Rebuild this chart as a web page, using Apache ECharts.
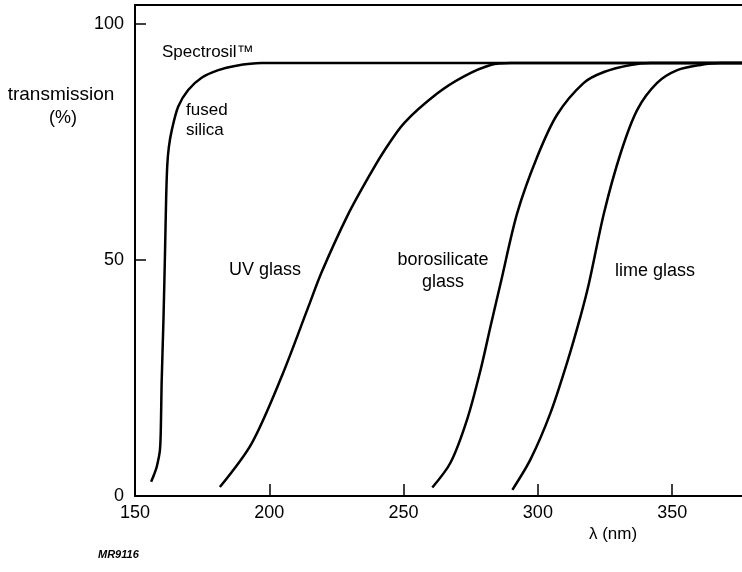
<!DOCTYPE html>
<html><head><meta charset="utf-8">
<script src="https://cdn.jsdelivr.net/npm/echarts@6/dist/echarts.min.js"></script>
<style>html,body{margin:0;padding:0;background:#fff}#c{width:742px;height:572px}</style>
</head><body><div id="c"></div>
<script>
// wavelength (nm), transmission (%)
const fusedSilica = [[156.0,3.0],[157.0,4.4],[158.1,6.2],[159.3,9.8],[159.7,16.7],[159.9,23.6],[160.6,37.4],[161.2,52.2],[161.6,63.1],[162.0,69.9],[162.6,73.9],[163.7,77.5],[166.1,82.5],[169.8,86.0],[174.8,88.6],[181.0,90.2],[187.2,91.1],[197.1,91.7],[376,91.7]];
const uvGlass = [[181.6,1.9],[193.4,11.1],[204.6,25.3],[214.5,40.0],[219.4,47.3],[229.3,59.6],[237.8,68.4],[243.0,73.3],[250.2,79.0],[262.6,85.3],[272.5,88.9],[282.4,91.3],[290,91.7],[376,91.7]];
const borosilicate = [[260.7,1.8],[267.5,7.1],[273.7,16.3],[278.7,26.8],[282.4,36.0],[286.1,45.0],[292.3,59.9],[299.8,71.9],[307.2,80.8],[317.1,87.5],[324.6,89.8],[334.5,91.3],[342,91.7],[376,91.7]];
const limeGlass = [[290.5,1.3],[297.3,7.8],[304.7,17.6],[310.9,28.3],[315.9,38.1],[319.0,45.0],[324.6,59.9],[330.8,72.6],[337.0,81.8],[344.4,87.5],[351.9,90.2],[360.5,91.3],[368,91.7],[376,91.7]];
const xRange = [150, 376];
const yRange = [0, 104];
const xInterval = 50;
const yInterval = 50;

const FONT = '"Liberation Sans", Arial, sans-serif';
const chart = echarts.init(document.getElementById('c'), null, {renderer: 'canvas'});
function lineSeries(name, data) {
  return {
    name, type: 'line', data, symbol: 'none', silent: true,
    smooth: 0.3,
    lineStyle: {color: '#000', width: 2.5}
  };
}
function txt(text, x, y, size, align, fontStyle) {
  return {
    type: 'text', x, y, silent: true,
    style: {text, font: (fontStyle ? fontStyle + ' ' : '') + size + 'px ' + FONT,
      fill: '#000', textAlign: align || 'left', textVerticalAlign: 'middle'}
  };
}
chart.setOption({
  animation: false,
  backgroundColor: '#fff',
  grid: {left: 135, right: 0, top: 5, bottom: 76, containLabel: false, outerBoundsMode: 'none'},
  xAxis: [{
    type: 'value', min: xRange[0], max: xRange[1], interval: xInterval,
    axisLine: {show: true, onZero: false, lineStyle: {color: '#000', width: 2}},
    axisTick: {show: true, inside: true, length: 12, lineStyle: {color: '#000', width: 1.5}},
    axisLabel: {show: true, margin: 8, color: '#000', fontSize: 18, fontFamily: FONT, showMaxLabel: false,
      formatter: v => (v % 50 === 0 ? String(v) : '')},
    splitLine: {show: false}
  }, {
    type: 'value', position: 'top', min: xRange[0], max: xRange[1],
    axisLine: {show: true, onZero: false, lineStyle: {color: '#000', width: 2}},
    axisTick: {show: false}, axisLabel: {show: false}, splitLine: {show: false}
  }],
  yAxis: {
    type: 'value', min: yRange[0], max: yRange[1], interval: yInterval,
    axisLine: {show: true, onZero: false, lineStyle: {color: '#000', width: 2}},
    axisTick: {show: true, inside: true, length: 11, lineStyle: {color: '#000', width: 1.5}},
    axisLabel: {show: true, margin: 11, color: '#000', fontSize: 18, fontFamily: FONT, showMaxLabel: false,
      formatter: v => (v % 50 === 0 ? String(v) : '')},
    splitLine: {show: false}
  },
  series: [
    lineSeries('fused silica', fusedSilica),
    lineSeries('UV glass', uvGlass),
    lineSeries('borosilicate glass', borosilicate),
    lineSeries('lime glass', limeGlass)
  ],
  graphic: [
    txt('transmission', 61, 95, 19, 'center'),
    txt('(%)', 63, 118, 18, 'center'),
    txt('Spectrosil\u2122', 162, 52, 17, 'left'),
    txt('fused', 186, 110, 17, 'left'),
    txt('silica', 186, 130, 17, 'left'),
    txt('UV glass', 229, 270, 18, 'left'),
    txt('borosilicate', 443, 260, 18, 'center'),
    txt('glass', 443, 282, 18, 'center'),
    txt('lime glass', 615, 271, 18, 'left'),
    txt('\u03bb (nm)', 613, 534, 17, 'center'),
    txt('MR9116', 98, 555, 11, 'left', 'italic bold')
  ]
});
</script></body></html>
